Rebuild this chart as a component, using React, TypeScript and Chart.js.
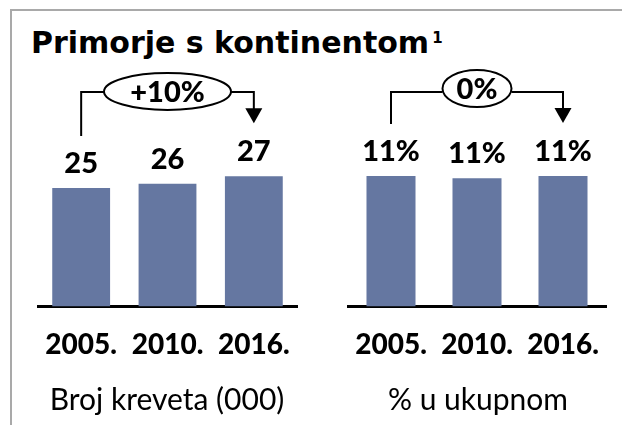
import React, { useEffect, useRef } from "react";
import { Chart, registerables } from "chart.js";

Chart.register(...registerables);

// ---- data ----
const years = ["2005.", "2010.", "2016."];
const beds = [25.0, 25.9, 27.5];
const bedLabels = ["25", "26", "27"];
const shares = [11.1, 10.9, 11.1];
const shareLabels = ["11%", "11%", "11%"];
const titleText = "Primorje s kontinentom";
const titleNote = "1";
const leftCaption = "Broj kreveta (000)";
const rightCaption = "% u ukupnom";
const leftChange = "+10%";
const rightChange = "0%";

const BAR = "#6577a1";
const FONT = "Lato, 'Open Sans', sans-serif";

function makeLabelPlugin(labels: string[], change: string, rx: number, cyOff: number) {
  return {
    id: "labelsAndBracket",
    afterDatasetsDraw(chart: any) {
      const ctx = chart.ctx;
      const meta = chart.getDatasetMeta(0);
      const bars = meta.data;
      ctx.save();
      ctx.fillStyle = "#000";
      ctx.font = `900 29px ${FONT}`;
      ctx.textAlign = "center";
      ctx.textBaseline = "alphabetic";
      const gap = 15;
      const capH = 21;
      bars.forEach((b: any, i: number) => {
        ctx.fillText(labels[i], b.x, b.y - gap);
      });
      // bracket
      const first = bars[0];
      const last = bars[bars.length - 1];
      const lineY = chart.chartArea.top + 16;
      const startBottom = first.y - gap - capH - 16;
      const tipY = last.y - gap - capH - 17;
      const cx = (first.x + last.x) / 2;
      ctx.font = `900 29px ${FONT}`;
      const ry = 18.5;
      const cy = lineY + cyOff;
      ctx.strokeStyle = "#000";
      ctx.lineWidth = 2;
      ctx.beginPath();
      ctx.moveTo(first.x, startBottom);
      ctx.lineTo(first.x, lineY);
      ctx.lineTo(cx - rx, lineY);
      ctx.moveTo(cx + rx, lineY);
      ctx.lineTo(last.x, lineY);
      ctx.lineTo(last.x, tipY - 12);
      ctx.stroke();
      ctx.beginPath();
      ctx.moveTo(last.x - 8.5, tipY - 15);
      ctx.lineTo(last.x + 8.5, tipY - 15);
      ctx.lineTo(last.x, tipY);
      ctx.closePath();
      ctx.fill();
      ctx.beginPath();
      ctx.ellipse(cx, cy, rx, ry, 0, 0, Math.PI * 2);
      ctx.fillStyle = "#fff";
      ctx.fill();
      ctx.stroke();
      ctx.fillStyle = "#000";
      ctx.textBaseline = "middle";
      ctx.fillText(change, cx, cy + 1);
      ctx.restore();
    },
  };
}

function Panel(props: {
  values: number[];
  labels: string[];
  change: string;
  rx: number;
  cyOff: number;
  max: number;
  barPct: number;
  left: number;
  width: number;
  padLeft: number;
  padRight: number;
}) {
  const ref = useRef<HTMLCanvasElement>(null);
  useEffect(() => {
    const chart = new Chart(ref.current as HTMLCanvasElement, {
      type: "bar",
      data: {
        labels: years,
        datasets: [
          {
            data: props.values,
            backgroundColor: BAR,
            barPercentage: props.barPct,
            categoryPercentage: 1,
          },
        ],
      },
      options: {
        responsive: false,
        animation: false,
        layout: {
          padding: { left: props.padLeft, right: props.padRight, top: 16, bottom: 22 },
        },
        plugins: {
          legend: { display: false },
          tooltip: { enabled: false },
        },
        scales: {
          x: {
            grid: { display: false, drawTicks: true, tickLength: 22 },
            border: { display: true, color: "#000", width: 3 },
            ticks: {
              color: "#000",
              font: { family: FONT, weight: "900", size: 28 },
              padding: 0,
              maxRotation: 0,
              autoSkip: false,
            },
          },
          y: { display: false, min: 0, max: props.max },
        },
      },
      plugins: [makeLabelPlugin(props.labels, props.change, props.rx, props.cyOff)],
    } as any);
    return () => chart.destroy();
  }, []);
  return (
    <canvas
      ref={ref}
      width={props.width}
      height={324}
      style={{ position: "absolute", left: props.left, top: 60, width: props.width, height: 324 }}
    />
  );
}

const captionStyle: React.CSSProperties = {
  position: "absolute",
  width: 300,
  top: 380,
  textAlign: "center",
  fontSize: 30,
  color: "#000",
  lineHeight: 1.2,
  whiteSpace: "nowrap",
  fontFamily: FONT,
};

export default function App() {
  return (
    <div
      style={{
        position: "absolute",
        left: 0,
        top: 0,
        width: 622,
        height: 425,
        background: "#fff",
        overflow: "hidden",
        fontFamily: FONT,
      }}
    >
      <div
        style={{
          position: "absolute",
          left: 10,
          top: 9,
          width: 640,
          height: 440,
          borderTop: "2px solid #a9a9a9",
          borderLeft: "2px solid #a9a9a9",
        }}
      />
      <div
        style={{
          position: "absolute",
          left: 31,
          top: 25,
          fontSize: 30,
          fontWeight: 700,
          fontFamily: "'DejaVu Sans', sans-serif",
          color: "#000",
          whiteSpace: "nowrap",
          lineHeight: 1.2,
        }}
      >
        {titleText}
        <span style={{ fontSize: 15, marginLeft: 3, position: "relative", top: -10 }}>{titleNote}</span>
      </div>
      <Panel
        values={beds}
        labels={bedLabels}
        change={leftChange}
        rx={63.5}
        cyOff={-0.5}
        max={48.7}
        barPct={0.67}
        left={0}
        width={320}
        padLeft={38}
        padRight={23}
      />
      <Panel
        values={shares}
        labels={shareLabels}
        change={rightChange}
        rx={34.5}
        cyOff={-3.5}
        max={19.6}
        barPct={0.57}
        left={320}
        width={302}
        padLeft={28}
        padRight={16}
      />
      <div style={{ ...captionStyle, left: 167 - 150 }}>{leftCaption}</div>
      <div style={{ ...captionStyle, left: 478 - 150 }}>{rightCaption}</div>
    </div>
  );
}
